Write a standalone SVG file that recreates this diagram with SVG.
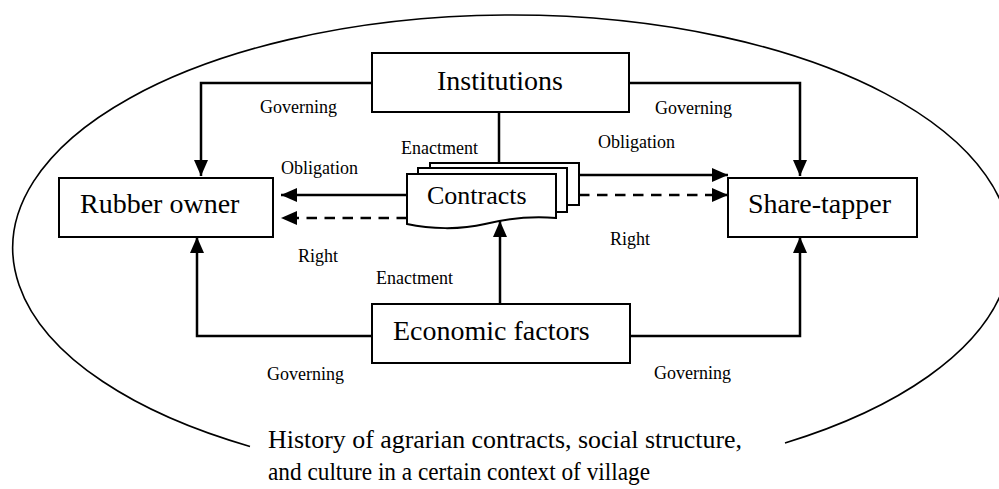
<svg xmlns="http://www.w3.org/2000/svg" width="999" height="489" viewBox="0 0 999 489">
<style>
.box{fill:#fff;stroke:#000;stroke-width:2}
.big{font-family:"Liberation Serif","Times New Roman",serif;font-size:28px;fill:#000}
.mid{font-family:"Liberation Serif","Times New Roman",serif;font-size:26px;fill:#000}
.lbl{font-family:"Liberation Serif","Times New Roman",serif;font-size:18px;fill:#000}
.con{fill:none;stroke:#000;stroke-width:2.5}
.arr{marker-end:url(#ah)}
.dash{stroke-dasharray:10.5 7.5}
</style>
<defs>
<marker id="ah" markerUnits="userSpaceOnUse" markerWidth="17" markerHeight="14" viewBox="0 0 17 14" refX="16" refY="7" orient="auto">
<path d="M0,0 L16,7 L0,14 Z" fill="#000"/>
</marker>
</defs>
<rect width="999" height="489" fill="#fff"/>
<g id="context">
<path d="M 250 446.4 A 499 233 0 1 1 785 443" fill="none" stroke="#000" stroke-width="1.6"/>
<text class="mid" x="268" y="448" textLength="474" lengthAdjust="spacingAndGlyphs">History of agrarian contracts, social structure,</text>
<text class="mid" x="268" y="480" textLength="382" lengthAdjust="spacingAndGlyphs">and culture in a certain context of village</text>
</g>
<g id="connectors">
<path class="con arr" d="M372 83 H201 V176"/>
<path class="con arr" d="M629 83 H800 V176"/>
<path class="con" d="M499 112 V163"/>
<path class="con arr" d="M500 304 V221"/>
<path class="con arr" d="M372 336 H197 V237"/>
<path class="con arr" d="M630 336 H800 V237"/>
<path class="con arr" d="M407 195 H281"/>
<path class="con arr dash" d="M407 218 H281"/>
<path class="con arr" d="M579 175 H728"/>
<path class="con arr dash" d="M579 195 H728"/>
<text class="lbl" x="260" y="113">Governing</text>
<text class="lbl" x="655" y="114">Governing</text>
<text class="lbl" x="401" y="154">Enactment</text>
<text class="lbl" x="281" y="174">Obligation</text>
<text class="lbl" x="598" y="148">Obligation</text>
<text class="lbl" x="610" y="245">Right</text>
<text class="lbl" x="298" y="262">Right</text>
<text class="lbl" x="376" y="284">Enactment</text>
<text class="lbl" x="267" y="380">Governing</text>
<text class="lbl" x="654" y="379">Governing</text>
</g>
<g id="institutions">
<rect class="box" x="372" y="53" width="257" height="59"/>
<text class="big" x="500" y="90" text-anchor="middle">Institutions</text>
</g>
<g id="rubber-owner">
<rect class="box" x="59" y="178" width="214" height="59"/>
<text class="big" x="80" y="213">Rubber owner</text>
</g>
<g id="share-tapper">
<rect class="box" x="728" y="178" width="189" height="59"/>
<text class="big" x="748" y="213">Share-tapper</text>
</g>
<g id="contracts">
<rect class="box" x="430" y="163" width="149" height="42"/>
<rect class="box" x="418" y="168" width="149" height="44"/>
<path class="box" d="M407 174 H556 V218 C530 216 505 219 485 224 C460 230 430 229 407 224 Z"/>
<text class="mid" x="427" y="204">Contracts</text>
</g>
<g id="economic-factors">
<rect class="box" x="372" y="304" width="258" height="59"/>
<text class="big" x="393" y="340">Economic factors</text>
</g>
</svg>
